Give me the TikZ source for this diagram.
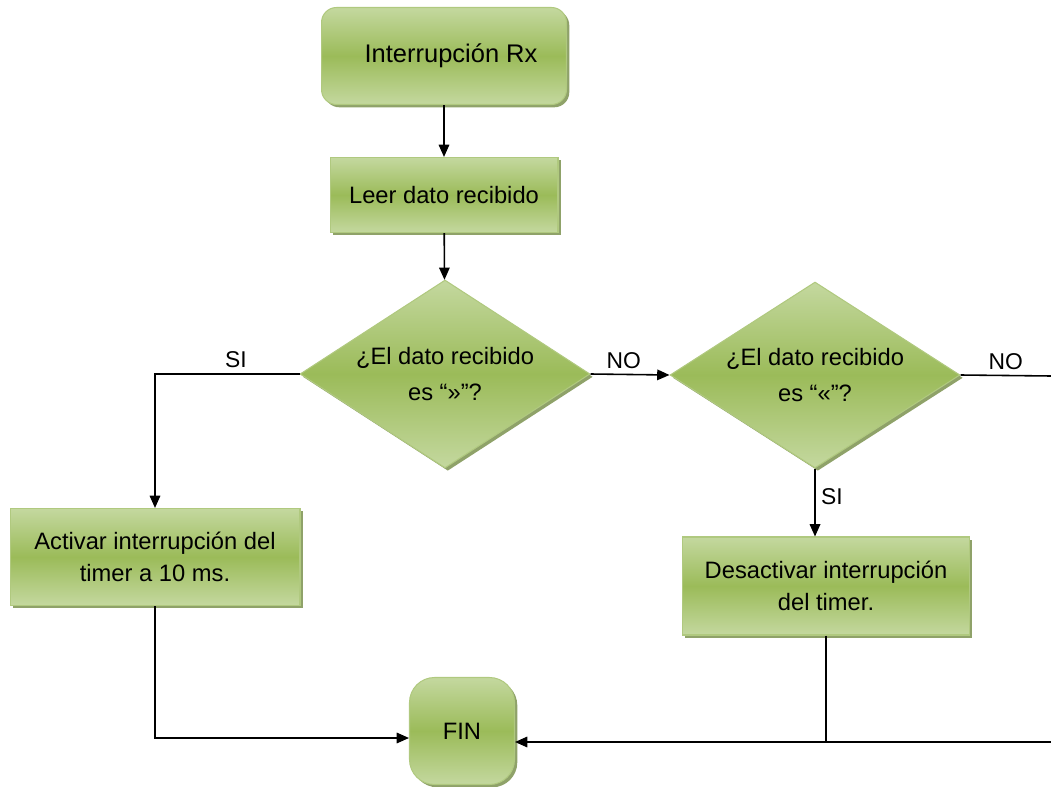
\documentclass[tikz,border=0pt]{standalone}
\usepackage{fontspec}
\setmainfont{Liberation Sans}
\usetikzlibrary{shapes.geometric,arrows.meta,shadows}

\definecolor{verdeclaro}{HTML}{C4D89F}
\definecolor{verdemedio}{HTML}{9BBB59}
\definecolor{verdeborde}{HTML}{B0C97F}
\definecolor{verdesombra}{HTML}{5F7A2A}

\tikzset{
  bloque/.style={draw=verdeborde, line width=0.6pt, top color=verdeclaro,
    bottom color=verdeclaro, middle color=verdemedio, align=center,
    font=\fontsize{13.5}{18}\selectfont, inner sep=2pt,
    drop shadow={shadow xshift=1.6pt, shadow yshift=-1.6pt, fill=verdesombra, opacity=0.7}},
  proceso/.style={bloque, rectangle},
  terminal/.style={bloque, rectangle, rounded corners=0.3cm},
  decision/.style={bloque, diamond, inner sep=0pt, aspect=1.54,
    font=\fontsize{13.5}{20}\selectfont},
  flecha/.style={line width=0.9pt, -{Triangle[width=6pt,length=7pt]}},
  linea/.style={line width=0.9pt},
  etiqueta/.style={font=\fontsize{13}{15}\selectfont, inner sep=3pt}
}

\begin{document}
\begin{tikzpicture}[x=0.02cm,y=-0.02cm]
\useasboundingbox (0,0) rectangle (1051,787);

\node[terminal, minimum width=4.9cm, minimum height=1.94cm,
  font=\fontsize{14.5}{18}\selectfont] (rx) at (444,56) {\hspace{8pt}Interrupción Rx};
\node[proceso, minimum width=4.56cm, minimum height=1.5cm] (leer) at (444,195) {Leer dato recibido};
\node[decision, minimum width=5.8cm, minimum height=3.76cm] (d1) at (445,374)
  {¿El dato recibido\\es “»”?};
\node[decision, minimum width=5.8cm, minimum height=3.72cm] (d2) at (815,375)
  {¿El dato recibido\\es “«”?};
\node[proceso, minimum width=5.8cm, minimum height=1.94cm] (act) at (155,557)
  {Activar interrupción del\\timer a 10 ms.};
\node[proceso, minimum width=5.74cm, minimum height=1.96cm] (des) at (826,586)
  {Desactivar interrupción\\del timer.};
\node[terminal, rounded corners=0.5cm, minimum width=2.1cm, minimum height=2.14cm] (fin) at (462,731) {FIN};

\coordinate (salno) at (1051,376);
\coordinate (entfin) at (1051,742);
\coordinate (entizq) at (0,738);

\draw[flecha] (rx) -- (leer);
\draw[flecha] (leer) -- (d1);
\draw[flecha] (d1.west) -| node[etiqueta, pos=0.22, above] {SI} (act.north);
\draw[flecha] (d1.east) -- node[etiqueta, above, pos=0.42] {NO} (d2.west);
\draw[linea] (d2.east) -- node[etiqueta, above] {NO} (salno);
\draw[flecha] (d2.south) -- node[etiqueta, right, pos=0.42] {SI} (d2.south |- des.north);
\draw[flecha] (act.south) |- (fin.west |- entizq);
\draw[flecha] (entfin) -- (fin.east |- entfin);
\draw[linea] (des.south) -- (des.south |- entfin);
\end{tikzpicture}
\end{document}
